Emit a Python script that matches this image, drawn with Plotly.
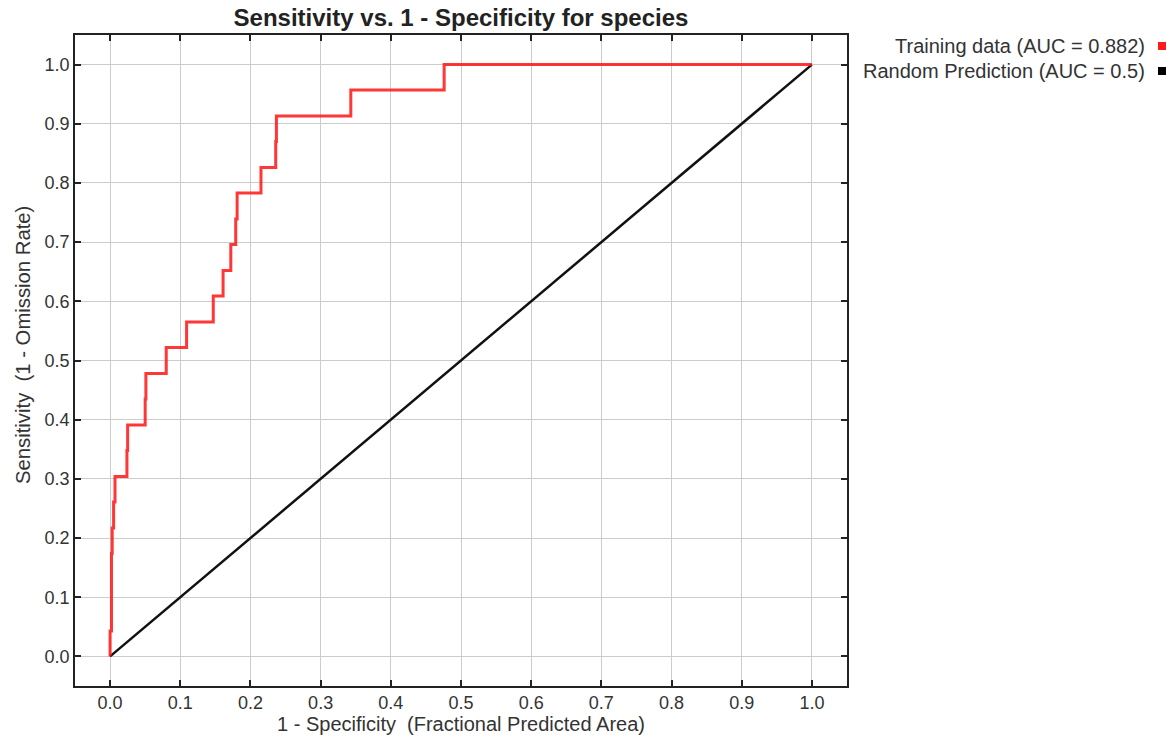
import plotly.graph_objects as go

# ROC step vertices (1 - specificity, sensitivity)
fpr = [0.0, 0.0, 0.002, 0.002, 0.002, 0.003, 0.005, 0.007, 0.024, 0.025, 0.050, 0.051,
       0.080, 0.109, 0.147, 0.161, 0.172, 0.179, 0.181, 0.215, 0.236, 0.237, 0.343, 0.476, 1.0]
tpr = [0.0, 0.043, 0.087, 0.130, 0.174, 0.217, 0.261, 0.304, 0.348, 0.391, 0.435, 0.478,
       0.522, 0.565, 0.609, 0.652, 0.696, 0.739, 0.783, 0.826, 0.870, 0.913, 0.957, 1.0, 1.0]
rand_x = [0.0, 1.0]
rand_y = [0.0, 1.0]

legend_labels = ["Training data (AUC = 0.882)", "Random Prediction (AUC = 0.5)"]
legend_colors = ["#ff1a1a", "#000000"]
ticks = [round(i * 0.1, 1) for i in range(11)]
tick_text = [f"{t:.1f}" for t in ticks]

FONT = "Liberation Sans, Arial, Helvetica"
L, R, T, B = 75, 847, 35, 686
W, H = 1173, 742

fig = go.Figure()
fig.add_trace(go.Scatter(x=rand_x, y=rand_y, mode="lines",
                         line=dict(color="#111111", width=2.5), showlegend=False))
fig.add_trace(go.Scatter(x=fpr, y=tpr, mode="lines", line_shape="hv",
                         line=dict(color="rgba(255,20,20,0.85)", width=3), showlegend=False))

axis_common = dict(
    tickvals=ticks, ticktext=tick_text, showgrid=True, gridcolor="#cccccc", gridwidth=1.2,
    zeroline=False, showline=True, linecolor="#222222", linewidth=1.5, mirror="allticks",
    ticks="inside", ticklen=6, tickcolor="#222222", tickwidth=1.5,
    tickfont=dict(family=FONT, size=18, color="#333333"),
)
fig.update_xaxes(range=[-0.05, 1.05], title=dict(text="1 - Specificity  (Fractional Predicted Area)",
                 font=dict(family=FONT, size=20, color="#333333"), standoff=0),
                 **axis_common)
fig.update_yaxes(range=[-0.05, 1.05], **axis_common)

annotations = [dict(text="Sensitivity  (1 - Omission Rate)", textangle=-90,
                    xref="paper", yref="paper", x=(23 - L) / (R - L), y=(B - 345) / (B - T),
                    xanchor="center", yanchor="middle", showarrow=False,
                    font=dict(family=FONT, size=20.3, color="#333333"))]
shapes = []
for i, (lab, col) in enumerate(zip(legend_labels, legend_colors)):
    ypix = 46 + i * 25
    yp = (B - ypix) / (B - T)
    annotations.append(dict(text=lab, xref="paper", yref="paper", x=(1147 - L) / (R - L), y=yp,
                            xanchor="right", yanchor="middle", showarrow=False,
                            font=dict(family=FONT, size=20, color="#333333")))
    shapes.append(dict(type="rect", xref="paper", yref="paper",
                       x0=(1158 - L) / (R - L), x1=(1166 - L) / (R - L),
                       y0=(B - (ypix + 4)) / (B - T), y1=(B - (ypix - 4)) / (B - T),
                       fillcolor=col, line=dict(width=0)))

fig.update_layout(
    width=W, height=H,
    margin=dict(l=L, r=W - R, t=T, b=H - B),
    paper_bgcolor="white", plot_bgcolor="white",
    title=dict(text="<b>Sensitivity vs. 1 - Specificity for species</b>", x=(L + R) / 2 / W,
               xanchor="center", y=1 - 18 / H, yanchor="middle",
               font=dict(family=FONT, size=24, color="#222222")),
    annotations=annotations, shapes=shapes, showlegend=False,
)

fig.write_html("out.html", config={"displayModeBar": False},
               post_script="document.body.style.margin='0';document.body.style.overflow='hidden';")
